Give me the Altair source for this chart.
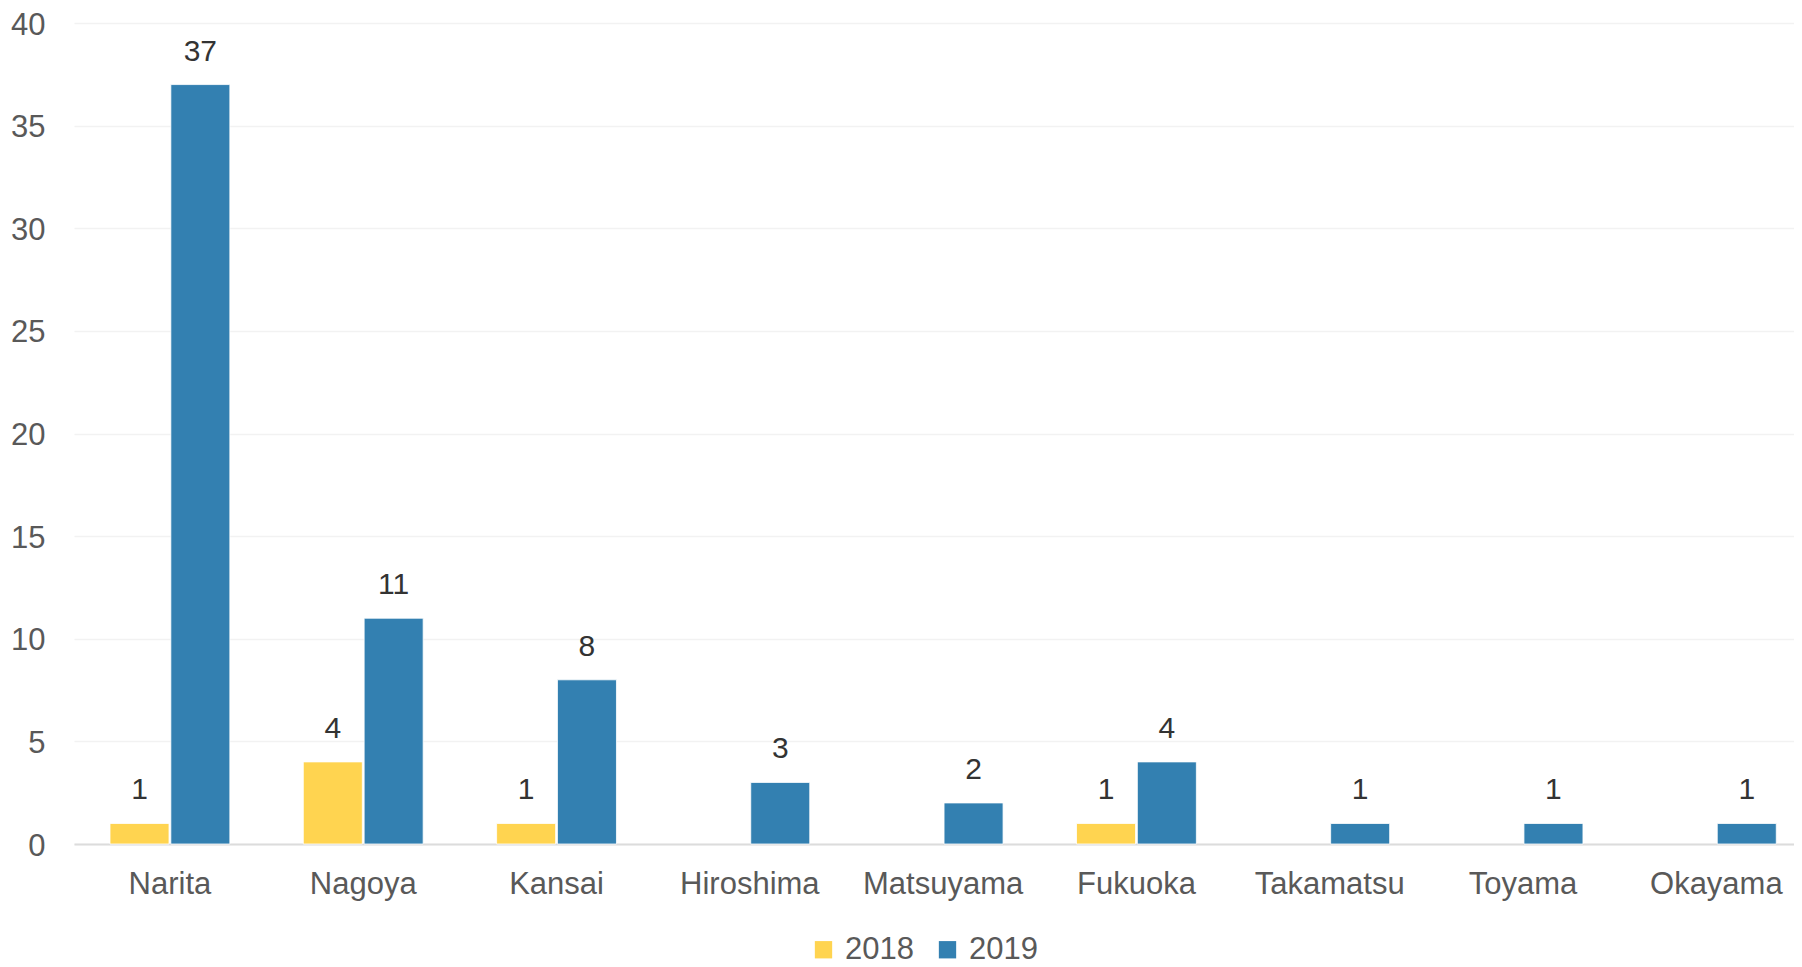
import altair as alt
import pandas as pd

airports = ["Narita", "Nagoya", "Kansai", "Hiroshima", "Matsuyama",
            "Fukuoka", "Takamatsu", "Toyama", "Okayama"]
years = ["2018", "2019"]
values_2018 = [1, 4, 1, None, None, 1, None, None, None]
values_2019 = [37, 11, 8, 3, 2, 4, 1, 1, 1]
colors = ["#FFD450", "#3380B1"]

rows = []
for a, v18, v19 in zip(airports, values_2018, values_2019):
    rows.append({"airport": a, "year": "2018", "value": v18})
    rows.append({"airport": a, "year": "2019", "value": v19})
df = pd.DataFrame(rows)

FONT = "Liberation Sans"
FS = 31

x = alt.X("airport:N", sort=airports, title=None,
          scale=alt.Scale(paddingInner=0.38, paddingOuter=0.139, align=0.67),
          axis=alt.Axis(labelAngle=0, labelFontSize=FS, labelColor="#595959",
                        labelFont=FONT, ticks=False, domainColor="#dcdcdc",
                        domainWidth=2, labelPadding=25, grid=False))
xo = alt.XOffset("year:N", sort=years,
                 scale=alt.Scale(paddingInner=0.03, paddingOuter=0))
y = alt.Y("value:Q", title=None,
          scale=alt.Scale(domain=[0, 40], nice=False),
          axis=alt.Axis(values=[0, 5, 10, 15, 20, 25, 30, 35, 40],
                        labelFontSize=FS, labelColor="#595959", labelFont=FONT,
                        ticks=False, domain=False, labelPadding=29,
                        labelOffset=2,
                        gridColor="#f2f2f2", gridWidth=1.5))

bars = alt.Chart(df).mark_bar(stroke="white", strokeWidth=0.8).encode(
    x=x, xOffset=xo, y=y,
    color=alt.Color("year:N", sort=years,
                    scale=alt.Scale(domain=years, range=colors),
                    legend=alt.Legend(title=None, orient="none",
                                      direction="horizontal",
                                      legendX=734, legendY=911,
                                      symbolType="square", symbolSize=300,
                                      symbolStrokeWidth=0,
                                      labelFontSize=FS, labelFont=FONT,
                                      labelColor="#595959",
                                      columnPadding=18, labelOffset=6)),
)

labels = alt.Chart(df).mark_text(baseline="bottom", dy=-18, fontSize=30,
                                 font=FONT, color="#333333").encode(
    x=alt.X("airport:N", sort=airports),
    xOffset=alt.XOffset("year:N", sort=years),
    y=alt.Y("value:Q"),
    text=alt.Text("value:Q", format="d"),
)

chart = alt.layer(bars, labels).properties(
    width=1720, height=821,
    padding={"left": 66, "top": 15, "right": 0, "bottom": 122},
    autosize=alt.AutoSizeParams(type="none"),
).configure_view(stroke=None)

chart.save("out.html", embed_options={"renderer": "svg", "actions": False})
